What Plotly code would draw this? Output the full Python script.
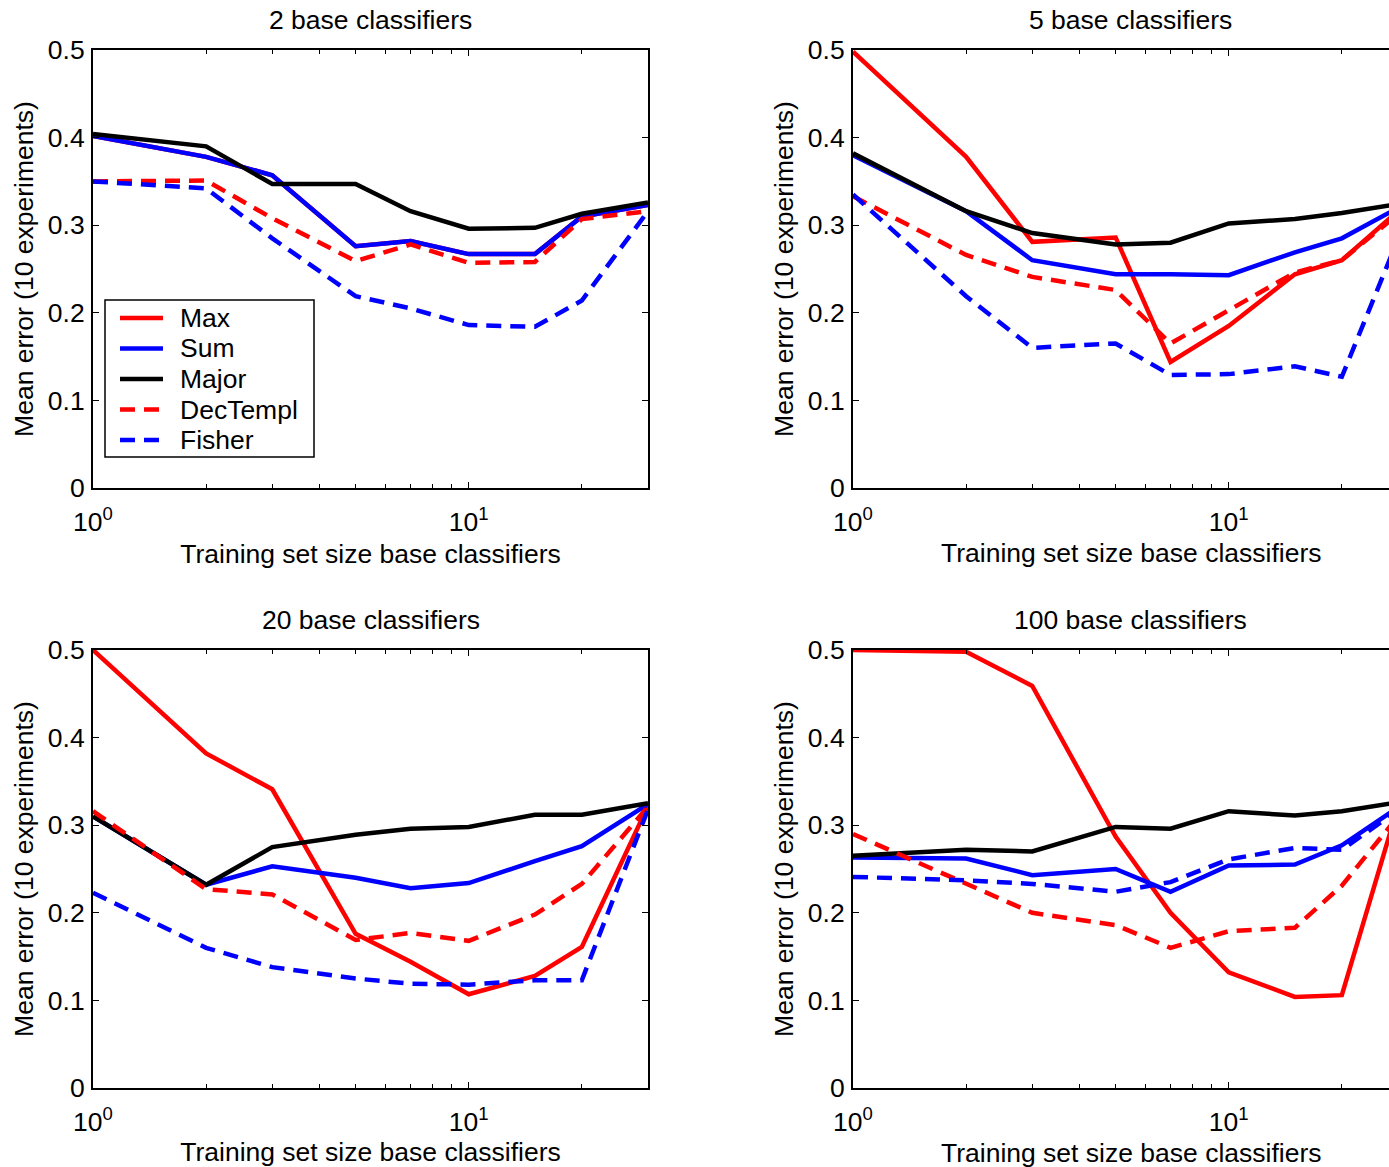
import plotly.graph_objects as go
import math

# ---------------- data ----------------
train_sizes = [1, 2, 3, 5, 7, 10, 15, 20, 30]
panel_titles = ["2 base classifiers", "5 base classifiers", "20 base classifiers", "100 base classifiers"]
method_names = ["Max", "Sum", "Major", "DecTempl", "Fisher"]
x_title = "Training set size base classifiers"
y_title = "Mean error (10 experiments)"

# 2 base classifiers
p2_max      = [0.402, 0.378, 0.357, 0.276, 0.282, 0.267, 0.267, 0.310, 0.323]
p2_sum      = [0.402, 0.378, 0.357, 0.276, 0.282, 0.267, 0.267, 0.310, 0.323]
p2_major    = [0.404, 0.390, 0.347, 0.347, 0.316, 0.296, 0.297, 0.313, 0.326]
p2_dectempl = [0.350, 0.351, 0.308, 0.259, 0.278, 0.257, 0.258, 0.307, 0.316]
p2_fisher   = [0.350, 0.342, 0.285, 0.219, 0.205, 0.186, 0.184, 0.214, 0.316]

# 5 base classifiers
p5_max      = [0.498, 0.378, 0.281, 0.286, 0.144, 0.185, 0.244, 0.260, 0.326]
p5_sum      = [0.380, 0.316, 0.260, 0.244, 0.244, 0.243, 0.269, 0.285, 0.326]
p5_major    = [0.382, 0.316, 0.291, 0.278, 0.280, 0.302, 0.307, 0.314, 0.326]
p5_dectempl = [0.333, 0.266, 0.241, 0.226, 0.165, 0.203, 0.246, 0.260, 0.322]
p5_fisher   = [0.335, 0.219, 0.160, 0.165, 0.129, 0.130, 0.139, 0.127, 0.312]

# 20 base classifiers
p20_max      = [0.500, 0.382, 0.341, 0.176, 0.144, 0.107, 0.128, 0.161, 0.322]
p20_sum      = [0.310, 0.232, 0.253, 0.240, 0.228, 0.234, 0.259, 0.276, 0.324]
p20_major    = [0.310, 0.232, 0.275, 0.289, 0.296, 0.298, 0.312, 0.312, 0.325]
p20_dectempl = [0.316, 0.227, 0.221, 0.169, 0.177, 0.168, 0.198, 0.233, 0.321]
p20_fisher   = [0.223, 0.160, 0.138, 0.125, 0.119, 0.118, 0.123, 0.123, 0.318]

# 100 base classifiers
p100_max      = [0.500, 0.498, 0.459, 0.287, 0.200, 0.132, 0.104, 0.106, 0.360]
p100_sum      = [0.263, 0.262, 0.243, 0.250, 0.224, 0.254, 0.255, 0.277, 0.328]
p100_major    = [0.265, 0.272, 0.270, 0.298, 0.296, 0.316, 0.311, 0.316, 0.328]
p100_dectempl = [0.290, 0.234, 0.200, 0.186, 0.160, 0.179, 0.183, 0.231, 0.324]
p100_fisher   = [0.241, 0.237, 0.233, 0.224, 0.235, 0.261, 0.274, 0.272, 0.325]

panels = [
    [p2_max, p2_sum, p2_major, p2_dectempl, p2_fisher],
    [p5_max, p5_sum, p5_major, p5_dectempl, p5_fisher],
    [p20_max, p20_sum, p20_major, p20_dectempl, p20_fisher],
    [p100_max, p100_sum, p100_major, p100_dectempl, p100_fisher],
]

y_ticks = [0, 0.1, 0.2, 0.3, 0.4, 0.5]
y_ticktext = ["0", "0.1", "0.2", "0.3", "0.4", "0.5"]
x_ticks = [1, 10]
x_ticktext = ["10<sup>0</sup>", "10<sup>1</sup>"]
x_minor = [2, 3, 4, 5, 6, 7, 8, 9, 20, 30]

# ---------------- style ----------------
W, H = 1389, 1167
FONT = "Liberation Sans, Arial, Helvetica, sans-serif"
FS = 26.5
colors = ["#FF0000", "#0000FF", "#000000", "#FF0000", "#0000FF"]
dashes = ["solid", "solid", "solid", "15px,9px", "15px,9px"]
LW = 4.5


def px(xp):
    return xp / W


def py(yp):
    return 1 - yp / H


# plot-area boxes in screenshot pixels (left, right, top, bottom)
boxes = [(93, 648, 50, 488), (853, 1408, 50, 488), (93, 648, 650, 1088), (853, 1408, 650, 1088)]

fig = go.Figure()
layout = dict(
    width=W, height=H, margin=dict(l=0, r=0, t=0, b=0, autoexpand=False),
    paper_bgcolor="white", plot_bgcolor="white",
    font=dict(family=FONT, size=FS, color="black"),
    annotations=[], shapes=[], showlegend=False,
)

xmax_log = math.log10(30)
for i, (series, title, box) in enumerate(zip(panels, panel_titles, boxes)):
    l, r, t, b = box
    right_clip = min(r, W)
    frac = (right_clip - l) / (r - l)
    xa = "xaxis" if i == 0 else f"xaxis{i+1}"
    ya = "yaxis" if i == 0 else f"yaxis{i+1}"
    xref = "x" if i == 0 else f"x{i+1}"
    yref = "y" if i == 0 else f"y{i+1}"
    clipped = right_clip < r
    layout[xa] = dict(
        type="log", domain=[px(l), px(right_clip)], anchor=yref,
        range=[0, xmax_log * frac], automargin=False,
        tickvals=x_ticks, ticktext=x_ticktext,
        ticks="inside", ticklen=6, tickwidth=1, tickcolor="black",
        minor=dict(tickvals=x_minor, ticks="inside", ticklen=4, tickwidth=1, tickcolor="black"),
        showline=True, linecolor="black", linewidth=2, mirror="ticks",
        showgrid=False, zeroline=False,
        tickfont=dict(size=FS), ticklabelstandoff=9,
    )
    if clipped:
        # centre the title on the full (partly off-page) axis, as in the original
        layout["annotations"].append(dict(
            text=x_title, xref="paper", yref="paper",
            x=px((l + r) / 2), y=py(b + 65), xanchor="center", yanchor="middle",
            showarrow=False, font=dict(size=FS),
        ))
    else:
        layout[xa]["title"] = dict(text=x_title, font=dict(size=FS), standoff=9)
    layout[ya] = dict(
        domain=[py(b), py(t)], anchor=xref, range=[0, 0.5], automargin=False,
        tickvals=y_ticks, ticktext=y_ticktext,
        ticks="inside", ticklen=6, tickwidth=1, tickcolor="black",
        showline=True, linecolor="black", linewidth=2,
        mirror=False if clipped else "ticks",
        showgrid=False, zeroline=False,
        tickfont=dict(size=FS), ticklabelstandoff=1,
        title=dict(text=y_title, font=dict(size=FS), standoff=7),
    )
    layout["annotations"].append(dict(
        text=title, xref="paper", yref="paper",
        x=px((l + r) / 2), y=py(t - 30), xanchor="center", yanchor="middle",
        showarrow=False, font=dict(size=FS),
    ))
    for k, name in enumerate(method_names):
        fig.add_trace(go.Scatter(
            x=train_sizes, y=series[k], mode="lines", name=name,
            line=dict(color=colors[k], width=LW, dash=dashes[k]),
            xaxis=xref, yaxis=yref, showlegend=False, hoverinfo="skip",
        ))

# legend box drawn inside the first panel
leg_l, leg_r, leg_t, leg_b = 105, 314, 300, 457
layout["shapes"].append(dict(
    type="rect", xref="paper", yref="paper",
    x0=px(leg_l), x1=px(leg_r), y0=py(leg_b), y1=py(leg_t),
    line=dict(color="black", width=1.5), fillcolor="white", layer="above",
))
row_y = [318, 348.5, 379, 409.5, 440]
for k, name in enumerate(method_names):
    yy = py(row_y[k])
    layout["shapes"].append(dict(
        type="line", xref="paper", yref="paper",
        x0=px(120), x1=px(163), y0=yy, y1=yy,
        line=dict(color=colors[k], width=LW, dash=dashes[k]), layer="above",
    ))
    layout["annotations"].append(dict(
        text=name, xref="paper", yref="paper", x=px(178), y=yy,
        xanchor="left", yanchor="middle", showarrow=False, font=dict(size=FS),
    ))

fig.update_layout(**layout)
fig.write_html(
    "out.html",
    config={"displayModeBar": False, "staticPlot": True},
    post_script="document.body.style.margin='0px';document.body.style.overflow='hidden';",
)
